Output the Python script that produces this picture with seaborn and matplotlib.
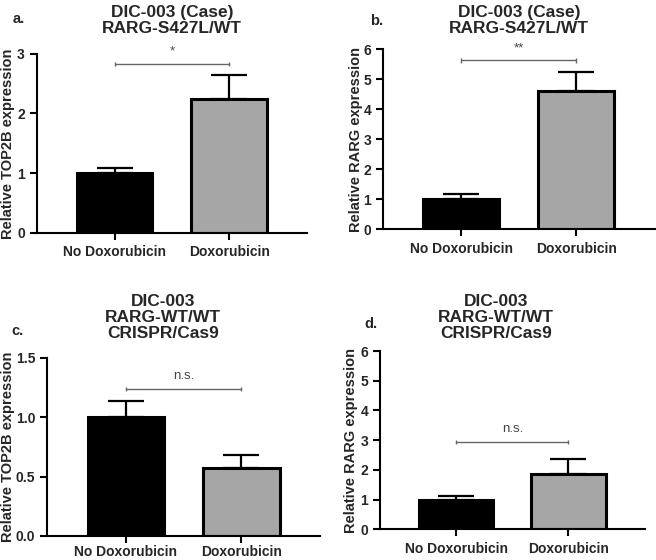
import numpy as np
import pandas as pd
import matplotlib
matplotlib.use("Agg")
import matplotlib.pyplot as plt
import seaborn as sns

sns.set_style("ticks")
plt.rcParams['font.family'] = ['Liberation Sans', 'DejaVu Sans']

groups = ["No Doxorubicin", "Doxorubicin"]

# panel data: mean and upper SD
means_a = [1.00, 2.24]
sd_a = [0.08, 0.41]
means_b = [1.00, 4.62]
sd_b = [0.17, 0.63]
means_c = [1.00, 0.575]
sd_c = [0.14, 0.11]
means_d = [1.00, 1.85]
sd_d = [0.13, 0.53]

titles = ["DIC-003 (Case)\nRARG-S427L/WT",
          "DIC-003 (Case)\nRARG-S427L/WT",
          "DIC-003\nRARG-WT/WT\nCRISPR/Cas9",
          "DIC-003\nRARG-WT/WT\nCRISPR/Cas9"]
letters = ["a.", "b.", "c.", "d."]
ylabels = ["Relative TOP2B expression", "Relative RARG expression",
           "Relative TOP2B expression", "Relative RARG expression"]
sig_labels = ["*", "**", "n.s.", "n.s."]
sig_levels = [2.83, 5.63, 1.24, 2.95]
yticks = [[0, 1, 2, 3], [0, 1, 2, 3, 4, 5, 6],
          [0.0, 0.5, 1.0, 1.5], [0, 1, 2, 3, 4, 5, 6]]
yticklabels = [None, None, ["0.0", "0.5", "1.0", "1.5"], None]

# layout: axes boxes [left, bottom, width, height] in figure fraction
boxes = [[0.056, 0.584, 0.412, 0.320],
         [0.584, 0.591, 0.414, 0.321],
         [0.072, 0.043, 0.416, 0.318],
         [0.579, 0.055, 0.404, 0.318]]
ylabel_x = [-0.081, -0.074, -0.117, -0.083]
title_x = [0.5, 0.5, 0.425, 0.438]
title_pad = [15, 11.5, 14, 9.5]
xtick_pad = [4, 4, 1.5, 4]
letter_xy = [(0.020, 0.966), (0.564, 0.962), (0.018, 0.409), (0.555, 0.421)]

panels = [(means_a, sd_a), (means_b, sd_b), (means_c, sd_c), (means_d, sd_d)]
colors = ["#000000", "#a6a6a6"]

fig = plt.figure(figsize=(6.56, 5.6), dpi=100)

for i, (means, sds) in enumerate(panels):
    ax = fig.add_axes(boxes[i])
    df = pd.DataFrame({"group": groups, "value": means})
    sns.barplot(data=df, x="group", y="value", hue="group", palette=colors,
                legend=False, width=0.66, edgecolor="black", linewidth=2.2,
                ax=ax, zorder=2)
    # upper error bar only
    ax.errorbar(range(len(groups)), means, yerr=[[0, 0], sds], fmt="none",
                ecolor="black", elinewidth=1.6, capsize=13, capthick=1.6,
                zorder=1)

    # significance bracket
    lv = sig_levels[i]
    top = yticks[i][-1]
    tick = top * 0.012
    ax.plot([0, 1], [lv, lv], color="#666666", lw=1.0, zorder=3)
    ax.vlines([0, 1], lv - tick, lv + tick, color="#666666", lw=1.0, zorder=3)
    ax.text(0.5, lv + top * 0.035, sig_labels[i], ha="center", va="bottom",
            fontsize=9.5, color="#444444")

    ax.set_xlim(-0.68, 1.68)
    ax.set_ylim(0, top)
    ax.set_yticks(yticks[i])
    if yticklabels[i] is not None:
        ax.set_yticklabels(yticklabels[i])
    ax.set_xlabel("")
    ax.set_ylabel(ylabels[i], fontsize=10.5, fontweight="bold")
    ax.yaxis.set_label_coords(ylabel_x[i], 0.5)
    ax.set_title(titles[i], fontsize=12.5, fontweight="bold",
                 linespacing=1.1, pad=title_pad[i], x=title_x[i])
    sns.despine(ax=ax)
    for s in ["left", "bottom"]:
        ax.spines[s].set_linewidth(1.5)
        ax.spines[s].set_color("black")
    ax.tick_params(axis="both", width=1.5, length=5, labelsize=10,
                   color="black")
    ax.tick_params(axis="x", pad=xtick_pad[i])
    for lab in ax.get_xticklabels() + ax.get_yticklabels():
        lab.set_fontweight("bold")

    fig.text(letter_xy[i][0], letter_xy[i][1], letters[i], fontsize=10.5,
             fontweight="bold", va="center")

fig.savefig("out.png", dpi=100)
